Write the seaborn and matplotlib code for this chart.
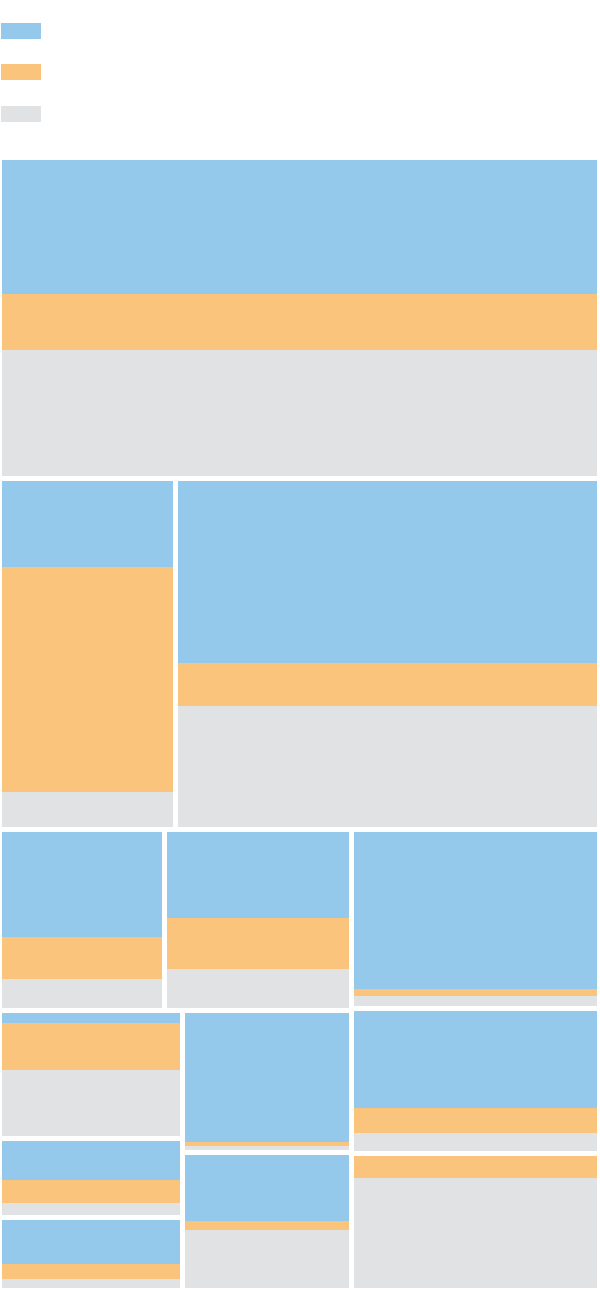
import matplotlib
matplotlib.use("Agg")
import matplotlib.pyplot as plt
import seaborn as sns

# ---- data -------------------------------------------------------------
tiles = ["A", "B", "C", "D", "E", "F", "G", "H", "I", "J", "K", "L", "M"]
tile_size = [28.28, 9.07, 22.04, 4.37, 5.03, 6.53, 3.44, 2.13, 1.90, 3.59, 3.40, 5.30, 4.92]
blue_share = [42.3, 24.6, 52.6, 59.4, 48.6, 90.2, 8.1, 52.7, 64.7, 94.2, 49.6, 69.3, 0.0]
orange_share = [17.7, 65.3, 12.4, 24.0, 29.1, 4.0, 38.2, 31.1, 22.1, 2.9, 6.8, 17.9, 16.7]
gray_share = [40.0, 10.1, 35.0, 16.6, 22.3, 5.8, 53.7, 16.2, 13.2, 2.9, 43.6, 12.8, 83.3]
series = ["blue", "orange", "gray"]
series_colors = ["#95C9EC", "#FBC47D", "#E1E2E4"]

# nesting of the tiles (v = stacked top-to-bottom, h = side by side)
hierarchy = ("v", ["A",
                   ("h", ["B", "C"]),
                   ("h", [("v", [("h", ["D", "E"]),
                                 ("h", [("v", ["G", "H", "I"]), ("v", ["J", "K"])])]),
                          ("v", ["F", "L", "M"])])])

# ---- layout -----------------------------------------------------------
size_of = dict(zip(tiles, tile_size))

def node_value(node):
    if isinstance(node, str):
        return size_of[node]
    return sum(node_value(c) for c in node[1])

def layout(node, x0, y0, x1, y1, out):
    if isinstance(node, str):
        out[node] = (x0, y0, x1, y1)
        return
    direction, children = node
    total = node_value(node)
    pos = x0 if direction == "h" else y0
    span = (x1 - x0) if direction == "h" else (y1 - y0)
    for c in children:
        step = span * node_value(c) / total
        if direction == "h":
            layout(c, pos, y0, pos + step, y1, out)
        else:
            layout(c, x0, pos, x1, pos + step, out)
        pos += step

GAP = 5.0
OX0, OY0, OX1, OY1 = 2, 160, 597, 1288
rects = {}
layout(hierarchy, OX0, OY0, OX1, OY1, rects)

# ---- drawing ----------------------------------------------------------
sns.set_theme(style="white")
fig = plt.figure(figsize=(6.0, 13.04), dpi=100)
ax = fig.add_axes([0, 0, 1, 1])
ax.set_xlim(0, 600)
ax.set_ylim(1304, 0)
ax.axis("off")

def inner(v, edge, sign):
    return v if abs(v - edge) < 1e-6 else v + sign * GAP / 2

shares = list(zip(blue_share, orange_share, gray_share))
for name, sh in zip(tiles, shares):
    x0, y0, x1, y1 = rects[name]
    x0 = inner(x0, OX0, 1); x1 = inner(x1, OX1, -1)
    y0 = inner(y0, OY0, 1); y1 = inner(y1, OY1, -1)
    h = y1 - y0
    tot = sum(sh)
    top = y0
    for s, col in zip(sh, series_colors):
        seg = h * s / tot
        if seg > 0:
            ax.bar(x0, seg, width=x1 - x0, bottom=top, align="edge",
                   color=col, linewidth=0)
        top += seg

# legend swatches (no labels in the reference)
for i, col in enumerate(series_colors):
    ax.bar(1, 16, width=40, bottom=22.5 + i * 41.7, align="edge", color=col, linewidth=0)

fig.savefig("out.png", dpi=100, facecolor="white")
